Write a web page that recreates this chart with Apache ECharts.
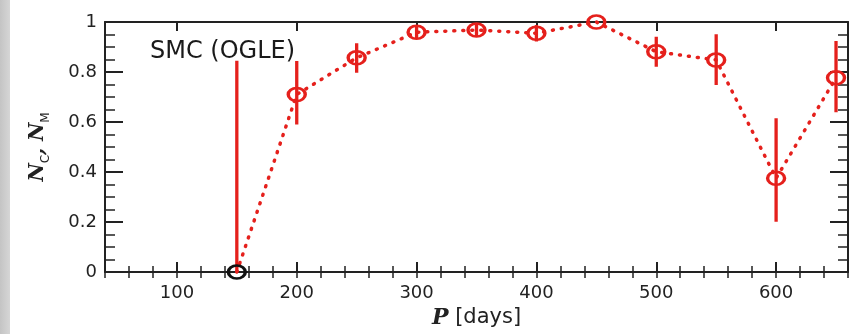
<!DOCTYPE html>
<html><head><meta charset="utf-8">
<script src="https://cdn.jsdelivr.net/npm/echarts@6/dist/echarts.min.js"></script>
<style>html,body{margin:0;padding:0;background:#fff}#c{width:862px;height:334px}</style>
</head><body><div id="c"></div>
<script>
const periods   = [150, 200, 250, 300, 350, 400, 450, 500, 550, 600, 650];
const fraction  = [0, 0.71, 0.857, 0.959, 0.968, 0.955, 1.0, 0.881, 0.848, 0.375, 0.777];
const errLow    = [0, 0.59, 0.797, 0.936, 0.941, 0.922, 1.0, 0.821, 0.748, 0.201, 0.639];
const errHigh   = [0.845, 0.844, 0.915, 0.982, 0.995, 0.988, 1.0, 0.941, 0.951, 0.615, 0.924];
const xMajorTicks = [100, 200, 300, 400, 500, 600];
const xMinorTicks = [40, 60, 80, 100, 120, 140, 160, 180, 200, 220, 240, 260, 280, 300, 320, 340, 360, 380, 400, 420, 440, 460, 480, 500, 520, 540, 560, 580, 600, 620, 640, 660];
const panelLabel = 'SMC (OGLE)';

const RED = '#e5201c';
const AX = '#222';
const chart = echarts.init(document.getElementById('c'), null, {renderer: 'canvas'});

const pts = periods.map((p, i) => ({
  value: [p, fraction[i]],
  itemStyle: i === 0 ? {borderColor: '#111'} : undefined
}));
const errData = periods.map((p, i) => [p, errLow[i], errHigh[i]]);

function xAxisBase(extra) {
  return Object.assign({
    type: 'value', min: 40, max: 660, gridIndex: 0,
    axisLine: {show: false}, splitLine: {show: false},
    axisLabel: {show: false}, axisTick: {show: false}
  }, extra);
}

chart.setOption({
  animation: false,
  backgroundColor: '#fff',
  title: {
    text: panelLabel, left: 145, top: 35,
    textStyle: {fontFamily: 'DejaVu Sans', fontSize: 24, fontWeight: 'normal', color: '#1a1a1a'}
  },
  graphic: [{
    type: 'rect', left: 0, top: 0, shape: {width: 10, height: 334},
    style: {fill: new echarts.graphic.LinearGradient(0, 0, 1, 0, [{offset: 0, color: '#c4c4c4'}, {offset: 1, color: '#d6d6d6'}])}
  }],
  grid: {left: 105, right: 14, top: 22, bottom: 62, containLabel: false},
  xAxis: [
    xAxisBase({
      position: 'bottom',
      axisLine: {show: true, onZero: false, lineStyle: {color: AX, width: 2}},
      axisTick: {show: true, inside: true, length: 10, customValues: xMajorTicks, lineStyle: {color: AX, width: 2}},
      axisLabel: {show: true, customValues: xMajorTicks, margin: 12, fontFamily: 'DejaVu Sans', fontSize: 18, color: '#222'},
      name: '{p|P}  {d|[days]}', nameLocation: 'middle', nameGap: 34,
      nameTextStyle: {rich: {
        p: {fontFamily: 'DejaVu Serif', fontStyle: 'italic', fontWeight: 'bold', fontSize: 22, color: '#222'},
        d: {fontFamily: 'DejaVu Sans', fontSize: 21, color: '#222'}
      }}
    }),
    xAxisBase({
      position: 'bottom',
      axisTick: {show: true, inside: true, length: 6, customValues: xMinorTicks, lineStyle: {color: AX, width: 1.5}}
    }),
    xAxisBase({
      position: 'top',
      axisLine: {show: true, onZero: false, lineStyle: {color: AX, width: 2}},
      axisTick: {show: true, inside: true, length: 9, customValues: xMajorTicks, lineStyle: {color: AX, width: 2}}
    }),
    xAxisBase({
      position: 'top',
      axisTick: {show: true, inside: true, length: 6, customValues: xMinorTicks, lineStyle: {color: AX, width: 1.5}}
    })
  ],
  yAxis: [
    {
      type: 'value', min: 0, max: 1, interval: 0.2, position: 'left',
      axisLine: {show: true, onZero: false, lineStyle: {color: AX, width: 2}},
      axisTick: {show: true, inside: true, length: 18, lineStyle: {color: AX, width: 2}},
      minorTick: {show: true, splitNumber: 4, length: 10, lineStyle: {color: AX, width: 1.5}},
      splitLine: {show: false},
      axisLabel: {margin: 8, fontFamily: 'DejaVu Sans', fontSize: 18, color: '#222', padding: [0, 0, 11, 0]},
      name: '{n|N}{s|C}{n|, N}{s|M}', nameLocation: 'middle', nameGap: 57,
      nameTextStyle: {rich: {
        n: {fontFamily: 'DejaVu Serif', fontStyle: 'italic', fontWeight: 'bold', fontSize: 20, color: '#222', lineHeight: 24, verticalAlign: 'bottom'},
        s: {fontFamily: 'DejaVu Sans', fontSize: 12, color: '#222', lineHeight: 24, verticalAlign: 'bottom', padding: [0, 0, -4, 0]}
      }}
    },
    {
      type: 'value', min: 0, max: 1, interval: 0.2, position: 'right',
      axisLine: {show: true, onZero: false, lineStyle: {color: AX, width: 2}},
      axisTick: {show: true, inside: true, length: 18, lineStyle: {color: AX, width: 2}},
      minorTick: {show: true, splitNumber: 4, length: 10, lineStyle: {color: AX, width: 1.5}},
      splitLine: {show: false},
      axisLabel: {show: false}
    }
  ],
  series: [
    {
      type: 'custom', xAxisIndex: 0, yAxisIndex: 0, clip: false, z: 2,
      data: errData,
      renderItem: function (params, api) {
        const x = api.value(0);
        const lo = api.coord([x, api.value(1)]);
        const hi = api.coord([x, api.value(2)]);
        return {type: 'line', shape: {x1: lo[0], y1: lo[1], x2: hi[0], y2: hi[1]},
                style: {stroke: RED, lineWidth: 3.3}};
      }
    },
    {
      type: 'line', xAxisIndex: 0, yAxisIndex: 0, clip: false, z: 3,
      data: pts,
      symbol: 'circle', symbolSize: [17, 13],
      itemStyle: {color: 'rgba(0,0,0,0)', borderColor: RED, borderWidth: 3},
      lineStyle: {color: RED, width: 3.5, type: [1, 8], cap: 'round'}
    }
  ]
});
</script></body></html>
